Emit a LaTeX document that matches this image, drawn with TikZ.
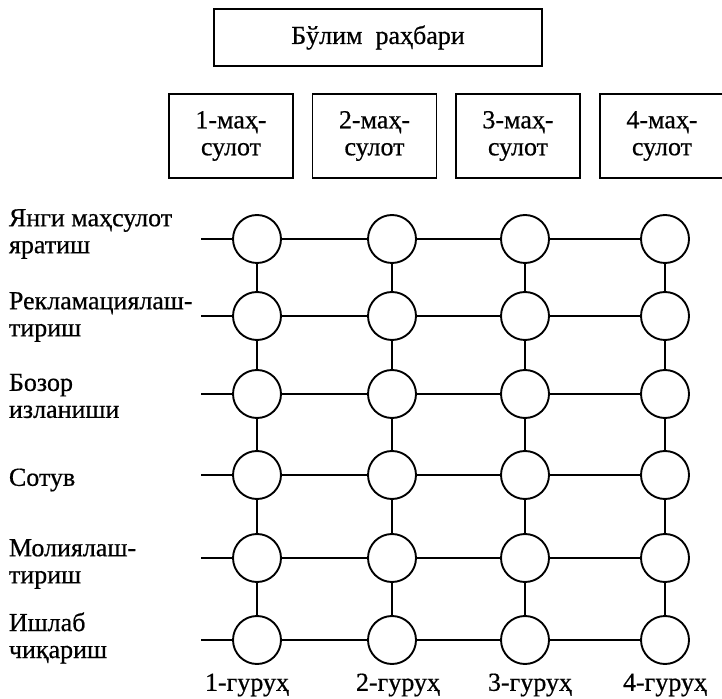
\documentclass[tikz,border=0pt]{standalone}
\usepackage{fontspec}
\setmainfont{Liberation Serif}[FakeBold=0.6]
\usetikzlibrary{positioning}

\begin{document}
\begin{tikzpicture}[x=0.5pt,y=-0.5pt,line width=0.95pt,
        every node/.append style={font=\fontsize{13}{13.5}\selectfont},
        box/.style={draw,rectangle,inner sep=0pt,align=center},
        unit/.style={draw,circle,inner sep=0pt,minimum size=24pt},
        rowtext/.style={anchor=west,align=left,inner sep=0pt}]
        \useasboundingbox (0,0) rectangle (722,699);
        % head and products
        \node[box,minimum width=164pt,minimum height=28.5pt] (head) at (378,37.5) {Бўлим\ \ раҳбари};
        \node[box,minimum width=62pt,minimum height=42pt] (p1) at (231,136) {1-маҳ-\\сулот};
        \node[box,minimum width=62pt,minimum height=42pt] (p2) at (374.5,136) {2-маҳ-\\сулот};
        \node[box,minimum width=62pt,minimum height=42pt] (p3) at (518,136) {3-маҳ-\\сулот};
        \node[box,minimum width=62pt,minimum height=42pt] (p4) at (662,136) {4-маҳ-\\сулот};
        % functions
        \node[rowtext] (f1) at (8,234) {Янги маҳсулот\\яратиш};
        \node[rowtext] (f2) at (8,317) {Рекламациялаш-\\тириш};
        \node[rowtext] (f3) at (8,396) {Бозор\\изланиши};
        \node[rowtext] (f4) at (8,480) {Сотув};
        \node[rowtext] (f5) at (8,564) {Молиялаш-\\тириш};
        \node[rowtext] (f6) at (8,638) {Ишлаб\\чиқариш};
        % matrix of units
        \node[unit] (c11) at (257,239) {}; \node[unit] (c12) at (392,239) {}; \node[unit] (c13) at (525,239) {}; \node[unit] (c14) at (665,239) {};
        \node[unit] (c21) at (257,316) {}; \node[unit] (c22) at (392,316) {}; \node[unit] (c23) at (525,316) {}; \node[unit] (c24) at (665,316) {};
        \node[unit] (c31) at (257,394) {}; \node[unit] (c32) at (392,394) {}; \node[unit] (c33) at (525,394) {}; \node[unit] (c34) at (665,394) {};
        \node[unit] (c41) at (257,475) {}; \node[unit] (c42) at (392,475) {}; \node[unit] (c43) at (525,475) {}; \node[unit] (c44) at (665,475) {};
        \node[unit] (c51) at (257,558) {}; \node[unit] (c52) at (392,558) {}; \node[unit] (c53) at (525,558) {}; \node[unit] (c54) at (665,558) {};
        \node[unit] (c61) at (257,640) {}; \node[unit] (c62) at (392,640) {}; \node[unit] (c63) at (525,640) {}; \node[unit] (c64) at (665,640) {};
        \coordinate (s1) at (201,239); \coordinate (s2) at (201,316); \coordinate (s3) at (201,394);
        \coordinate (s4) at (201,475); \coordinate (s5) at (201,558); \coordinate (s6) at (201,640);
        \draw (s1) -- (c11) -- (c12) -- (c13) -- (c14);
        \draw (s2) -- (c21) -- (c22) -- (c23) -- (c24);
        \draw (s3) -- (c31) -- (c32) -- (c33) -- (c34);
        \draw (s4) -- (c41) -- (c42) -- (c43) -- (c44);
        \draw (s5) -- (c51) -- (c52) -- (c53) -- (c54);
        \draw (s6) -- (c61) -- (c62) -- (c63) -- (c64);
        \draw (c11) -- (c21) -- (c31) -- (c41) -- (c51) -- (c61);
        \draw (c12) -- (c22) -- (c32) -- (c42) -- (c52) -- (c62);
        \draw (c13) -- (c23) -- (c33) -- (c43) -- (c53) -- (c63);
        \draw (c14) -- (c24) -- (c34) -- (c44) -- (c54) -- (c64);
        % groups
        \node (g1) at (247,685) {1-гуруҳ};
        \node (g2) at (398,685) {2-гуруҳ};
        \node (g3) at (530,685) {3-гуруҳ};
        \node (g4) at (665,685) {4-гуруҳ};
    \end{tikzpicture}
\end{document}
